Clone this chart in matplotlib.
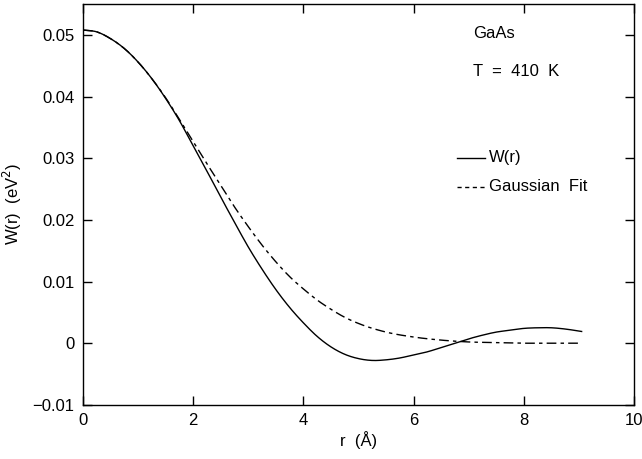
import numpy as np
import matplotlib
matplotlib.use("Agg")
import matplotlib.pyplot as plt

# Data
r_w = [0.0, 0.25, 0.5, 0.75, 1.0, 1.25, 1.5, 1.75, 2.0, 2.25, 2.5, 2.75, 3.0, 3.25, 3.5,
       3.75, 4.0, 4.25, 4.5, 4.75, 5.0, 5.25, 5.5, 5.75, 6.0, 6.25, 6.5, 6.75, 7.0, 7.25,
       7.5, 7.75, 8.0, 8.25, 8.5, 8.75, 9.05]
w_vals = [0.0508, 0.0505, 0.0494, 0.0478, 0.0456, 0.0429, 0.0397, 0.0361, 0.0320, 0.0279,
          0.0237, 0.0196, 0.0156, 0.0120, 0.0087, 0.0058, 0.0033, 0.0011, -0.0006, -0.0018,
          -0.0025, -0.0028, -0.0027, -0.0024, -0.0019, -0.0014, -0.0007, 0.0000, 0.0007,
          0.0013, 0.0018, 0.0021, 0.0024, 0.0025, 0.0025, 0.0023, 0.0019]

r_g = [0.0, 0.25, 0.5, 0.75, 1.0, 1.25, 1.5, 1.75, 2.0, 2.25, 2.5, 2.75, 3.0, 3.25, 3.5,
       3.75, 4.0, 4.25, 4.5, 4.75, 5.0, 5.5, 6.0, 6.5, 7.0, 7.5, 8.0, 8.5, 9.05]
g_vals = [0.0508, 0.0505, 0.0494, 0.0478, 0.0456, 0.0429, 0.0398, 0.0363, 0.0327, 0.0291,
          0.0256, 0.0221, 0.0189, 0.0159, 0.0132, 0.0108, 0.0088, 0.0070, 0.0055, 0.0042,
          0.0032, 0.0018, 0.0010, 0.0005, 0.0002, 0.0001, 0.0000, 0.0000, 0.0000]

x_ticks = [0, 2, 4, 6, 8, 10]
x_labels = ["0", "2", "4", "6", "8", "10"]
y_ticks = [-0.01, 0.0, 0.01, 0.02, 0.03, 0.04, 0.05]
y_labels = ["\u22120.01", "0", "0.01", "0.02", "0.03", "0.04", "0.05"]


def smooth(x, y, n=500):
    x = np.asarray(x, float)
    y = np.asarray(y, float)
    m = np.gradient(y, x)
    xs = np.linspace(x[0], x[-1], n)
    idx = np.clip(np.searchsorted(x, xs) - 1, 0, len(x) - 2)
    h = x[idx + 1] - x[idx]
    t = (xs - x[idx]) / h
    h00 = 2 * t**3 - 3 * t**2 + 1
    h10 = t**3 - 2 * t**2 + t
    h01 = -2 * t**3 + 3 * t**2
    h11 = t**3 - t**2
    ys = h00 * y[idx] + h10 * h * m[idx] + h01 * y[idx + 1] + h11 * h * m[idx + 1]
    return xs, ys


plt.rcParams['font.family'] = ['Liberation Sans', 'DejaVu Sans']

fig = plt.figure(figsize=(6.42, 4.59), dpi=100)
ax = fig.add_axes([0.1293, 0.118, 0.8582, 0.873])

xs, ys = smooth(r_w, w_vals)
ax.plot(xs, ys, color='black', lw=1.0)
xs, ys = smooth(r_g, g_vals)
ax.plot(xs, ys, color='black', lw=1.0, linestyle=(0, (7, 3, 2.5, 3)))

ax.set_xlim(0, 10)
ax.set_ylim(-0.01, 0.055)
ax.set_xticks(x_ticks)
ax.set_xticklabels(x_labels)
ax.set_yticks(y_ticks)
ax.set_yticklabels(y_labels)
ax.tick_params(direction='in', length=6.5, width=1.0, top=True, right=True,
               labelsize=12, pad=6)
for s in ax.spines.values():
    s.set_linewidth(1.0)

ax.set_xlabel("r  (\u00c5)", fontsize=12, labelpad=2)
ax.set_ylabel("W(r)  (eV$^2$)", fontsize=12, labelpad=6)

ax.text(7.08, 0.0502, "GaAs", fontsize=12, va='center', ha='left')
ax.text(7.08, 0.0440, "T  =  410  K", fontsize=12, va='center', ha='left')
ax.plot([6.78, 7.30], [0.0301, 0.0301], color='black', lw=1.0)
ax.text(7.36, 0.0301, "W(r)", fontsize=12, va='center', ha='left')
ax.plot([6.78, 7.30], [0.0254, 0.0254], color='black', lw=1.0, linestyle=(0, (3, 2.5)))
ax.text(7.36, 0.0254, "Gaussian  Fit", fontsize=12, va='center', ha='left')

fig.savefig("out.png", dpi=100)
